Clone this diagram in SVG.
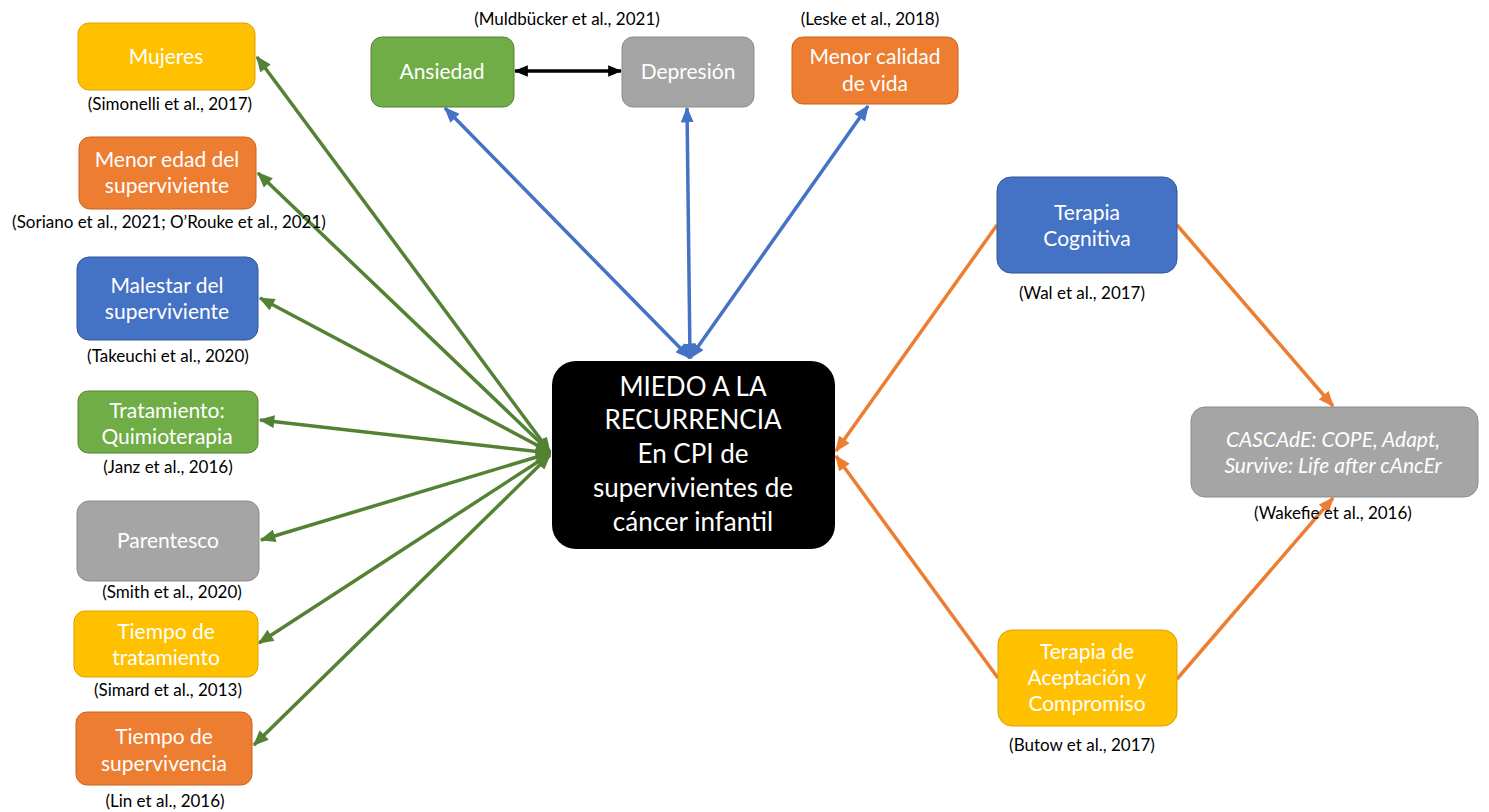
<svg xmlns="http://www.w3.org/2000/svg" width="1489" height="812" viewBox="0 0 1489 812">
<style>
.node text{font-family:Lato,"Liberation Sans",sans-serif;fill:#fff;text-anchor:middle;font-size:21px}
.cite{font-family:Lato,"Liberation Sans",sans-serif;fill:#000;text-anchor:middle;font-size:17px}
.yel{fill:#FFC000;stroke:#D9A300;stroke-width:1}
.org{fill:#ED7D31;stroke:#C8631F;stroke-width:1}
.blu{fill:#4472C4;stroke:#2F5597;stroke-width:1}
.grn{fill:#70AD47;stroke:#548235;stroke-width:1}
.gry{fill:#A5A5A5;stroke:#8C8C8C;stroke-width:1}
.cg{stroke:#548235;stroke-width:3.5;fill:none;marker-start:url(#ag);marker-end:url(#ag)}
.cb{stroke:#4472C4;stroke-width:3.5;fill:none;marker-start:url(#ab);marker-end:url(#ab)}
.co{stroke:#ED7D31;stroke-width:3.5;fill:none;marker-end:url(#ao)}
.ck{stroke:#000;stroke-width:3.5;fill:none;marker-start:url(#ak);marker-end:url(#ak)}
</style>
<defs>
<marker id="ag" markerUnits="userSpaceOnUse" viewBox="0 0 12 10" refX="11" refY="5" markerWidth="16" markerHeight="13" orient="auto-start-reverse"><path d="M0,0 L12,5 L0,10 z" fill="#548235"/></marker>
<marker id="ab" markerUnits="userSpaceOnUse" viewBox="0 0 12 10" refX="11" refY="5" markerWidth="16" markerHeight="13" orient="auto-start-reverse"><path d="M0,0 L12,5 L0,10 z" fill="#4472C4"/></marker>
<marker id="ao" markerUnits="userSpaceOnUse" viewBox="0 0 12 10" refX="11" refY="5" markerWidth="16" markerHeight="13" orient="auto-start-reverse"><path d="M0,0 L12,5 L0,10 z" fill="#ED7D31"/></marker>
<marker id="ak" markerUnits="userSpaceOnUse" viewBox="0 0 12 10" refX="11" refY="5" markerWidth="14" markerHeight="12" orient="auto-start-reverse"><path d="M0,0 L12,5 L0,10 z" fill="#000"/></marker>
</defs>
<rect width="1489" height="812" fill="#fff"/>

<g id="connectors">
<line class="cg" x1="550" y1="452" x2="257" y2="57"/>
<line class="cg" x1="550" y1="452" x2="258" y2="173"/>
<line class="cg" x1="550" y1="452" x2="260" y2="298"/>
<line class="cg" x1="550" y1="453" x2="260" y2="420"/>
<line class="cg" x1="550" y1="453" x2="261" y2="540"/>
<line class="cg" x1="550" y1="454" x2="259" y2="643"/>
<line class="cg" x1="550" y1="455" x2="254" y2="745"/>
<line class="cb" x1="690" y1="358" x2="445" y2="108"/>
<line class="cb" x1="690" y1="358" x2="687" y2="108"/>
<line class="cb" x1="690" y1="358" x2="868" y2="106"/>
<line class="ck" x1="515" y1="71" x2="621" y2="71"/>
<line class="co" x1="997" y1="225" x2="836" y2="451"/>
<line class="co" x1="998" y1="678" x2="836" y2="456"/>
<line class="co" x1="1177" y1="225" x2="1333" y2="406"/>
<line class="co" x1="1177" y1="679" x2="1333" y2="498"/>
</g>

<g id="mujeres" class="node"><rect class="yel" x="78" y="23" width="177" height="67" rx="11"/><text x="166" y="64">Mujeres</text></g>
<text class="cite" x="170" y="110">(Simonelli et al., 2017)</text>

<g id="menor-edad" class="node"><rect class="org" x="79" y="137" width="177" height="72" rx="11"/><text x="167" y="167">Menor edad del</text><text x="167" y="193">superviviente</text></g>
<text class="cite" x="169" y="228">(Soriano et al., 2021; O’Rouke et al., 2021)</text>

<g id="malestar" class="node"><rect class="blu" x="77" y="257" width="181" height="83" rx="12"/><text x="167" y="293">Malestar del</text><text x="167" y="319">superviviente</text></g>
<text class="cite" x="168" y="362">(Takeuchi et al., 2020)</text>

<g id="tratamiento" class="node"><rect class="grn" x="78" y="391" width="180" height="62" rx="10"/><text x="167" y="418">Tratamiento:</text><text x="167" y="444">Quimioterapia</text></g>
<text class="cite" x="168" y="473">(Janz et al., 2016)</text>

<g id="parentesco" class="node"><rect class="gry" x="77" y="501" width="182" height="80" rx="12"/><text x="168" y="548">Parentesco</text></g>
<text class="cite" x="172" y="598">(Smith et al., 2020)</text>

<g id="tiempo-tratamiento" class="node"><rect class="yel" x="74" y="611" width="184" height="66" rx="11"/><text x="166" y="639">Tiempo de</text><text x="166" y="665">tratamiento</text></g>
<text class="cite" x="168" y="696">(Simard et al., 2013)</text>

<g id="tiempo-supervivencia" class="node"><rect class="org" x="76" y="712" width="176" height="73" rx="11"/><text x="164" y="744">Tiempo de</text><text x="164" y="771">supervivencia</text></g>
<text class="cite" x="165" y="807">(Lin et al., 2016)</text>

<g id="ansiedad" class="node"><rect class="grn" x="371" y="37" width="143" height="70" rx="11"/><text x="442" y="79">Ansiedad</text></g>
<g id="depresion" class="node"><rect class="gry" x="622" y="37" width="132" height="70" rx="11"/><text x="688" y="79">Depresión</text></g>
<text class="cite" x="567" y="25">(Muldbücker et al., 2021)</text>

<g id="calidad-vida" class="node"><rect class="org" x="792" y="37" width="166" height="67" rx="11"/><text x="875" y="64">Menor calidad</text><text x="875" y="91">de vida</text></g>
<text class="cite" x="870" y="25">(Leske et al., 2018)</text>

<g id="miedo" class="node"><rect x="552" y="361" width="283" height="188" rx="24" fill="#000"/>
<text x="693" y="396" style="font-size:26px">MIEDO A LA</text>
<text x="693" y="429" style="font-size:26px">RECURRENCIA</text>
<text x="693" y="463" style="font-size:26px">En CPI de</text>
<text x="693" y="497" style="font-size:26px">supervivientes de</text>
<text x="693" y="531" style="font-size:26px">cáncer infantil</text></g>

<g id="terapia-cognitiva" class="node"><rect class="blu" x="997" y="177" width="180" height="96" rx="14"/><text x="1087" y="220">Terapia</text><text x="1087" y="246">Cognitiva</text></g>
<text class="cite" x="1082" y="299">(Wal et al., 2017)</text>

<g id="cascade" class="node"><rect class="gry" x="1191" y="407" width="287" height="90" rx="14"/><text x="1333" y="447" style="font-style:italic">CASCAdE: COPE, Adapt,</text><text x="1333" y="473" style="font-style:italic">Survive: Life after cAncEr</text></g>
<text class="cite" x="1333" y="519">(Wakefie et al., 2016)</text>

<g id="terapia-aceptacion" class="node"><rect class="yel" x="998" y="630" width="179" height="96" rx="14"/><text x="1087" y="659">Terapia de</text><text x="1087" y="685">Aceptación y</text><text x="1087" y="711">Compromiso</text></g>
<text class="cite" x="1082" y="751">(Butow et al., 2017)</text>
</svg>
